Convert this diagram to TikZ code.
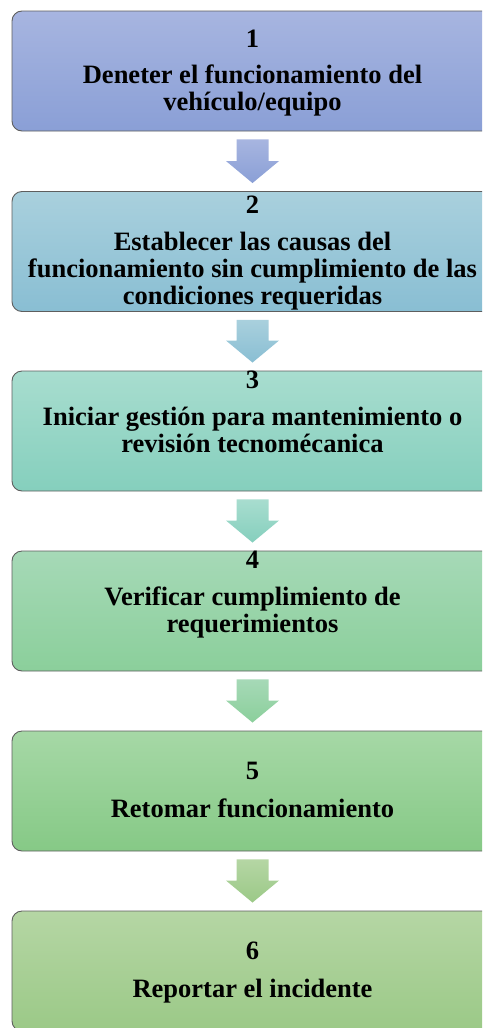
\documentclass[tikz,border=0pt]{standalone}
\usepackage{fontspec}
\setmainfont{Liberation Serif}
\usetikzlibrary{calc}
\definecolor{aT}{HTML}{A7B5E0}\definecolor{aB}{HTML}{8A9FD6}
\definecolor{bT}{HTML}{A9D0DD}\definecolor{bB}{HTML}{89BED3}
\definecolor{cT}{HTML}{A8DDCF}\definecolor{cB}{HTML}{85CFBD}
\definecolor{dT}{HTML}{A6D9B7}\definecolor{dB}{HTML}{8BCF9B}
\definecolor{eT}{HTML}{A6D8A6}\definecolor{eB}{HTML}{86C986}
\definecolor{fT}{HTML}{B5D6A4}\definecolor{fB}{HTML}{9BC987}
\definecolor{edge}{HTML}{5E5E5E}
\newcommand\flowarrow[4]{%
  \path[top color=#3, bottom color=#4]
    ($(#1.south)+(-16,8)$) -- ($(#1.south)+(16,8)$) --
    ($(#2.north)+(16,-30)$) -- ($(#2.north)+(26.5,-30)$) --
    ($(#2.north)+(0,-8)$) -- ($(#2.north)+(-26.5,-30)$) --
    ($(#2.north)+(-16,-30)$) -- cycle;}
\begin{document}
\begin{tikzpicture}[x=1pt,y=-1pt,
  stepbox/.style={draw=edge, line width=0.9pt, rounded corners=10pt,
    minimum width=481pt, minimum height=120pt, inner sep=0pt},
  numlabel/.style={anchor=base, font=\fontsize{26.5}{27}\selectfont\bfseries, inner sep=0pt},
  txtlabel/.style={anchor=base, align=center, font=\fontsize{26.5}{27}\selectfont\bfseries, inner sep=0pt}]
\useasboundingbox (0,0) rectangle (482,1028);
\clip (0,0) rectangle (482,1028);
\node[stepbox, top color=aT, bottom color=aB] (b1) at (252.5,71) {};
\node[stepbox, top color=bT, bottom color=bB] (b2) at (252.5,251.5) {};
\node[stepbox, top color=cT, bottom color=cB] (b3) at (252.5,431) {};
\node[stepbox, top color=dT, bottom color=dB] (b4) at (252.5,611) {};
\node[stepbox, top color=eT, bottom color=eB] (b5) at (252.5,791) {};
\node[stepbox, top color=fT, bottom color=fB] (b6) at (252.5,971) {};
\flowarrow{b1}{b2}{aT}{aB}
\flowarrow{b2}{b3}{bT}{bB}
\flowarrow{b3}{b4}{cT}{cB}
\flowarrow{b4}{b5}{dT}{dB}
\flowarrow{b5}{b6}{fT}{fB}
\node[numlabel] (n1) at (252.5,47) {1};
\node[txtlabel] (t1) at (252.5,110) {Deneter el funcionamiento del\\vehículo/equipo};
\node[numlabel] (n2) at (252.5,213) {2};
\node[txtlabel] (t2) at (252.5,304) {Establecer las causas del\\funcionamiento sin cumplimiento de las\\condiciones requeridas};
\node[numlabel] (n3) at (252.5,388) {3};
\node[txtlabel] (t3) at (252.5,452) {Iniciar gestión para mantenimiento o\\revisión tecnomécanica};
\node[numlabel] (n4) at (252.5,568) {4};
\node[txtlabel] (t4) at (252.5,632) {Verificar cumplimiento de\\requerimientos};
\node[numlabel] (n5) at (252.5,779) {5};
\node[txtlabel] (t5) at (252.5,817) {Retomar funcionamiento};
\node[numlabel] (n6) at (252.5,959) {6};
\node[txtlabel] (t6) at (252.5,997) {Reportar el incidente};
\end{tikzpicture}
\end{document}
